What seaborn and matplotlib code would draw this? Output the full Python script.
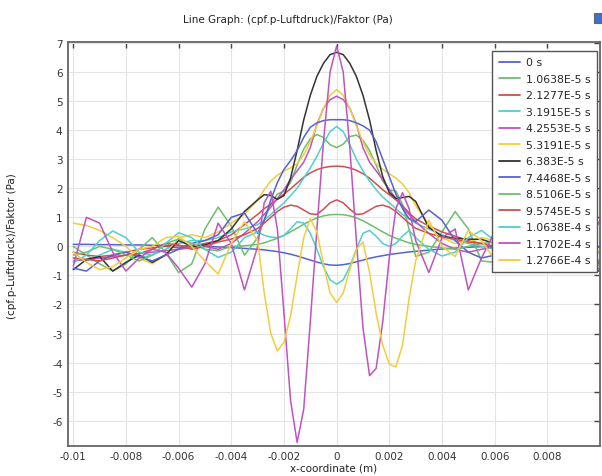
import pandas as pd
import seaborn as sns
import matplotlib
matplotlib.use("Agg")
import matplotlib.pyplot as plt
from matplotlib.patches import Rectangle

# x positions in mm (converted to m below)
x_mm = [-10, -9.5, -9, -8.5, -8, -7.5, -7, -6.5, -6, -5.5, -5, -4.5, -4, -3.5,
        -3, -2.75, -2.5, -2.25, -2, -1.75, -1.5, -1.25, -1, -0.75, -0.5, -0.25,
        0, 0.25, 0.5, 0.75, 1, 1.25, 1.5, 1.75, 2, 2.25, 2.5, 2.75, 3,
        3.5, 4, 4.5, 5, 5.5, 6, 6.5, 7, 7.5, 8, 8.5, 9, 9.5, 10]

labels = ["0 s", "1.0638E-5 s", "2.1277E-5 s", "3.1915E-5 s", "4.2553E-5 s",
          "5.3191E-5 s", "6.383E-5 s", "7.4468E-5 s", "8.5106E-5 s",
          "9.5745E-5 s", "1.0638E-4 s", "1.1702E-4 s", "1.2766E-4 s"]

p00 = [0.07, 0.07, 0.06, 0.06, 0.05, 0.05, 0.04, 0.03, 0.02, 0.01, 0.0, -0.02, -0.04, -0.07,
       -0.10, -0.12, -0.15, -0.18, -0.22, -0.27, -0.33, -0.40, -0.47, -0.54, -0.60, -0.64,
       -0.65, -0.63, -0.59, -0.53, -0.47, -0.41, -0.36, -0.32, -0.28, -0.25, -0.22, -0.19, -0.17,
       -0.13, -0.09, -0.06, -0.03, -0.01, 0.0, 0.0, 0.0, 0.0, -0.01, -0.01, -0.02, -0.02, -0.03]
p01 = [0.0, -0.3, -0.6, -0.85, -0.6, -0.1, 0.3, -0.2, -0.9, -0.6, 0.6, 1.35, 0.7, -0.3,
       0.3, 0.9, 1.45, 1.8, 1.9, 2.2, 2.8, 3.35, 3.7, 3.85, 3.75, 3.5,
       3.4, 3.52, 3.78, 3.83, 3.65, 3.3, 2.8, 2.25, 1.95, 1.9, 1.45, 0.6, -0.35,
       -0.2, 0.5, 1.2, 0.6, -0.5, -0.55, 0.0, 0.2, -0.1, -0.4, -0.2, 0.1, -0.3, -0.7]
p02 = [-0.2, -0.3, -0.35, -0.3, -0.2, -0.1, -0.05, 0.0, -0.05, 0.0, 0.1, 0.2, 0.4, 0.75,
       1.1, 1.3, 1.45, 1.62, 1.8, 1.98, 2.18, 2.38, 2.53, 2.64, 2.71, 2.75,
       2.76, 2.75, 2.7, 2.62, 2.5, 2.35, 2.15, 1.95, 1.78, 1.6, 1.4, 1.15, 0.95,
       0.7, 0.5, 0.35, 0.2, 0.1, 0.0, -0.1, -0.2, -0.15, -0.1, -0.2, -0.3, -0.4, -0.5]
p03 = [-0.4, -0.5, -0.3, -0.1, -0.2, -0.4, -0.3, -0.1, 0.1, 0.2, 0.2, 0.3, 0.5, 0.6,
       0.75, 0.9, 1.1, 1.3, 1.5, 1.75, 2.0, 2.35, 2.7, 3.1, 3.55, 3.95,
       4.13, 3.95, 3.5, 3.0, 2.6, 2.25, 1.95, 1.7, 1.5, 1.3, 1.1, 0.95, 0.8,
       0.6, 0.4, 0.2, 0.1, 0.0, -0.1, -0.2, -0.3, -0.25, -0.1, -0.2, -0.4, -0.5, -0.6]
p04 = [-0.5, -0.45, -0.4, -0.35, -0.3, -0.25, -0.2, -0.15, -0.1, -0.05, 0.0, -0.1, 0.1, 0.45,
       0.85, 1.1, 1.35, 1.65, 1.95, 2.3, 2.6, 2.9, 3.4, 4.2, 4.75, 5.05,
       5.17, 5.05, 4.75, 4.2, 3.4, 2.9, 2.6, 2.3, 1.95, 1.65, 1.35, 1.1, 0.85,
       0.45, 0.1, -0.1, -0.2, -0.1, 0.0, 0.1, 0.0, -0.2, -0.4, -0.3, -0.2, -0.4, -0.6]
p05 = [0.8, 0.72, 0.55, 0.3, 0.0, -0.4, -0.6, -0.3, 0.3, 0.4, 0.3, 0.5, 0.8, 1.1,
       1.6, 1.95, 2.25, 2.45, 2.6, 2.7, 2.85, 3.15, 3.6, 4.15, 4.75, 5.2,
       5.4, 5.2, 4.75, 4.15, 3.6, 3.15, 2.85, 2.65, 2.5, 2.35, 2.15, 1.85, 1.4,
       0.75, 0.3, 0.1, 0.15, 0.3, 0.2, -0.2, -0.5, -0.3, 0.1, 0.2, 0.0, -0.3, -0.5]
p06 = [-0.8, -0.45, -0.35, -0.85, -0.55, -0.3, -0.55, -0.3, 0.2, 0.0, 0.05, 0.2, 0.6, 1.2,
       1.6, 1.78, 1.75, 1.62, 1.75, 2.35, 3.3, 4.35, 5.2, 5.85, 6.3, 6.6,
       6.68, 6.6, 6.3, 5.85, 5.2, 4.35, 3.3, 2.4, 1.85, 1.65, 1.68, 1.72, 1.55,
       0.65, 0.35, 0.28, 0.25, 0.24, 0.1, -0.1, -0.3, -0.5, -0.4, -0.3, -0.6, -0.8, -0.85]
p07 = [-0.75, -0.85, -0.5, -0.3, -0.2, -0.35, -0.5, -0.3, -0.1, 0.1, 0.2, 0.4, 1.0, 1.15,
       0.45, 0.9, 1.6, 2.2, 2.65, 2.95, 3.3, 3.75, 4.1, 4.25, 4.33, 4.36,
       4.36, 4.36, 4.33, 4.25, 4.15, 4.0, 3.6, 3.0, 2.4, 1.8, 1.3, 0.95, 0.85,
       1.25, 0.9, 0.2, -0.2, -0.4, -0.3, 0.0, 0.15, 0.0, -0.3, -0.5, -0.3, -0.5, -0.8]
p08 = [-0.3, -0.2, 0.0, -0.1, -0.3, -0.5, -0.3, 0.1, 0.25, 0.1, -0.1, -0.15, 0.0, 0.02,
       0.07, 0.12, 0.2, 0.28, 0.38, 0.5, 0.63, 0.76, 0.88, 0.98, 1.05, 1.09,
       1.1, 1.09, 1.05, 0.98, 0.88, 0.76, 0.63, 0.5, 0.38, 0.28, 0.2, 0.12, 0.07,
       0.0, -0.05, -0.1, 0.0, 0.1, 0.15, 0.05, -0.15, -0.3, -0.1, 0.1, -0.1, -0.3, -0.5]
p09 = [-0.4, -0.45, -0.5, -0.4, -0.3, -0.25, -0.1, 0.1, 0.05, -0.1, 0.0, 0.15, 0.25, 0.4,
       0.62, 0.8, 1.0, 1.2, 1.35, 1.42, 1.38, 1.25, 1.12, 1.1, 1.28, 1.5,
       1.6, 1.5, 1.28, 1.1, 1.12, 1.25, 1.38, 1.42, 1.35, 1.2, 1.0, 0.8, 0.62,
       0.45, 0.32, 0.25, 0.15, 0.1, 0.0, -0.1, -0.05, 0.05, -0.05, -0.2, -0.35, -0.5, -0.55]
p10 = [-0.55, -0.3, 0.2, 0.53, 0.3, -0.2, -0.3, 0.1, 0.47, 0.3, -0.1, -0.38, -0.2, 0.3,
       0.5, 0.38, 0.32, 0.3, 0.38, 0.6, 0.85, 0.8, 0.45, -0.1, -0.7, -1.15,
       -1.3, -1.15, -0.7, -0.1, 0.45, 0.55, 0.35, 0.1, 0.0, 0.1, 0.35, 0.55, 0.3,
       -0.1, -0.33, -0.2, 0.3, 0.55, 0.2, -0.3, -0.5, -0.2, 0.2, 0.1, -0.3, -0.4, -0.2]
p11 = [-0.68, 1.0, 0.8, -0.2, -0.85, -0.4, -0.1, -0.2, -0.75, -1.4, -0.6, 0.8, 0.1, -1.5,
       0.0, 1.5, 1.9, 0.6, -2.3, -5.3, -6.75, -5.6, -2.6, 0.6, 3.6, 6.0,
       6.9, 6.0, 3.4, 0.2, -2.8, -4.45, -4.2, -2.6, -0.4, 1.3, 1.85, 1.3, 0.2,
       -0.9, 0.3, 0.6, -1.5, -0.4, 0.5, 0.0, -0.7, -0.3, 0.3, 0.0, -0.8, 0.0, 0.9]
p12 = [-0.2, -0.55, -0.8, -0.7, -0.4, -0.1, 0.0, 0.3, 0.35, 0.0, -0.5, -0.95, 0.1, 0.85,
       0.2, -1.6, -3.0, -3.6, -3.3, -2.4, -1.0, 0.3, 0.95, 0.5, -0.6, -1.6,
       -1.93, -1.6, -0.8, -0.1, 0.15, -0.9, -2.3, -3.4, -4.05, -4.15, -3.4, -1.8, -0.5,
       0.9, 0.0, -0.35, 0.55, 0.2, -0.45, -0.4, 0.1, 0.3, -0.1, -0.5, -0.3, 0.1, -0.2]

series = [p00, p01, p02, p03, p04, p05, p06, p07, p08, p09, p10, p11, p12]

colors = ["#5563cf", "#6cbf6c", "#d44d4d", "#4fcfcf", "#c152c1", "#f3cc3e", "#333333",
          "#5563cf", "#6cbf6c", "#d44d4d", "#4fcfcf", "#c152c1", "#f3cc3e"]

xticks = [-0.01, -0.008, -0.006, -0.004, -0.002, 0, 0.002, 0.004, 0.006, 0.008]
yticks = [-6, -5, -4, -3, -2, -1, 0, 1, 2, 3, 4, 5, 6, 7]

rows = []
for lab, ys in zip(labels, series):
    for xm, yv in zip(x_mm, ys):
        rows.append((xm * 1e-3, yv, lab))
df = pd.DataFrame(rows, columns=["x", "y", "t"])

sns.set_style("white")
plt.rcParams["font.family"] = ["DejaVu Sans"]

fig = plt.figure(figsize=(6.02, 4.77), dpi=100)
ax = fig.add_axes([68 / 602, 30.3 / 477, 532 / 602, 404 / 477])

sns.lineplot(data=df, x="x", y="y", hue="t", hue_order=labels, palette=colors,
             estimator=None, sort=False, linewidth=1.1, ax=ax)

ax.set_xlim(-0.0102, 0.0100)
ax.set_ylim(-6.86, 7.045)
ax.set_xticks(xticks)
ax.set_xticklabels([f"{v:g}" for v in xticks])
ax.set_yticks(yticks)
ax.set_yticklabels([str(v) for v in yticks])
ax.grid(True, color="#e4e4e4", linewidth=0.8)
ax.set_axisbelow(True)
ax.tick_params(direction="in", top=True, right=True, length=4, width=1,
               colors="#444444", labelsize=7.5, labelcolor="#333333", pad=4)
for sp in ax.spines.values():
    sp.set_color("#666666")
    sp.set_linewidth(1.3)

ax.set_xlabel("x-coordinate (m)", fontsize=7.5, color="#222222", labelpad=1)
ax.set_ylabel("")
fig.text(12 / 602, 1 - 246 / 477, "(cpf.p-Luftdruck)/Faktor (Pa)", rotation=90,
         ha="center", va="center", fontsize=7.5, color="#222222")
fig.text(288 / 602, 1 - 20 / 477, "Line Graph: (cpf.p-Luftdruck)/Faktor (Pa)",
         ha="center", va="center", fontsize=7.5, color="#222222")

leg = ax.legend(loc="upper right", bbox_to_anchor=(0.994, 0.977), borderaxespad=0,
                fontsize=7.8, frameon=True, fancybox=False, framealpha=1,
                edgecolor="#555555", handlelength=2.0, handletextpad=0.5,
                labelspacing=0.6, borderpad=0.6)
leg.get_frame().set_linewidth(1.0)
for line in leg.get_lines():
    line.set_linewidth(1.3)

# small window icon at top right
fig.patches.append(Rectangle((594 / 602, 1 - 24 / 477), 10 / 602, 10 / 477,
                             transform=fig.transFigure, facecolor="#3d6fd6",
                             edgecolor="#666666", linewidth=0.8))

fig.savefig("out.png", dpi=100)
